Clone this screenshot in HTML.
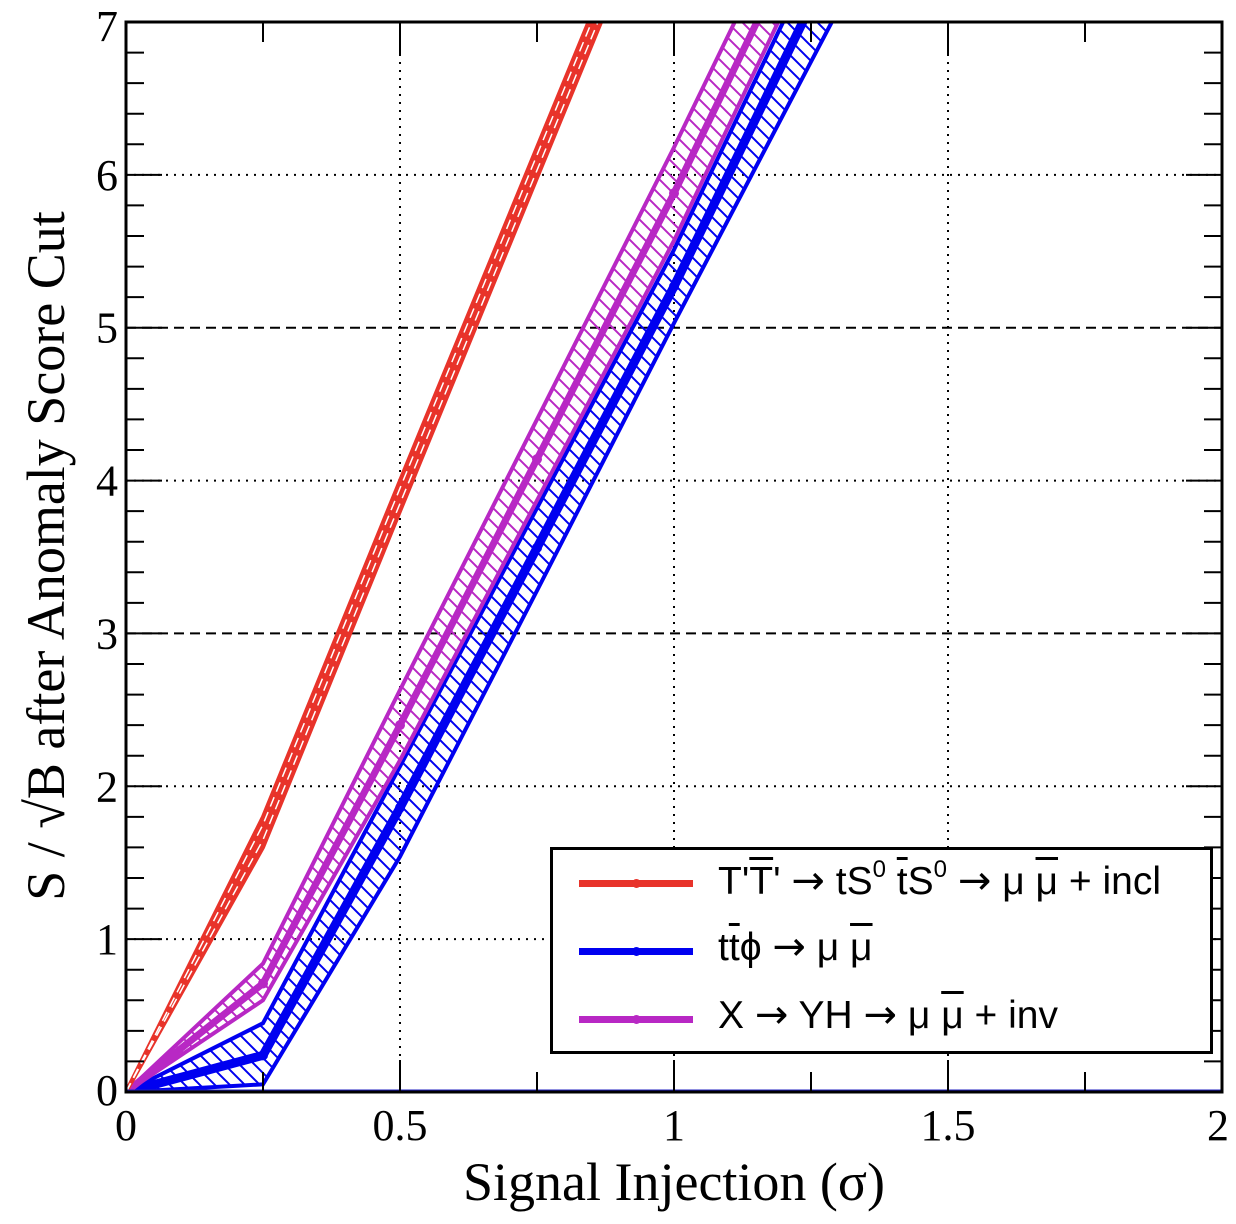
<!DOCTYPE html>
<html><head><meta charset="utf-8">
<style>
body{margin:0;background:#fff;}
#wrap{position:relative;width:1236px;height:1224px;overflow:hidden;background:#fff;}
svg{position:absolute;left:0;top:0;}
.lg{position:absolute;left:550px;top:847px;width:657px;height:201px;border:3px solid #000;background:#fff;font-family:"Liberation Sans",sans-serif;font-size:39px;color:#000;}
.ent{position:absolute;left:0;width:650px;height:50px;}
.sw{position:absolute;left:26px;top:30px;width:114px;height:7px;}
.dot{position:absolute;left:79px;top:29px;width:9px;height:9px;border-radius:50%;}
.tx{position:absolute;left:165px;top:6px;white-space:nowrap;}
.ov{text-decoration:overline;}
.ar{font-family:"DejaVu Sans",sans-serif;font-size:40px;}
sup{font-size:24px;vertical-align:17px;}
</style></head>
<body>
<div id="wrap">
<svg id="plot" width="1236" height="1224"></svg>
<div class="lg">
 <div class="ent" style="top:0px"><div class="sw" style="background:#e8332a"></div><div class="dot" style="background:#e8332a"></div><div class="tx">T'<span class="ov">T</span>' <span class="ar">→</span> tS<sup>0</sup> <span class="ov">t</span>S<sup>0</sup> <span class="ar">→</span> μ <span class="ov">μ</span> + incl</div></div>
 <div class="ent" style="top:68px"><div class="sw" style="background:#0000f0"></div><div class="dot" style="background:#0000f0"></div><div class="tx">t<span class="ov">t</span>ϕ <span class="ar">→</span> μ <span class="ov">μ</span></div></div>
 <div class="ent" style="top:136px"><div class="sw" style="background:#b828c4"></div><div class="dot" style="background:#b828c4"></div><div class="tx">X <span class="ar">→</span> YH <span class="ar">→</span> μ <span class="ov">μ</span> + inv</div></div>
</div>
</div>
<script>
const xs=[0,0.25,0.5,0.75,1.0,1.25,1.5];
const redC=[0,1.70,3.90,6.08,8.26,10.4,12.6];
const redU=[0,1.80,4.00,6.18,8.36,10.5,12.7];
const redL=[0,1.60,3.80,5.98,8.16,10.3,12.5];
const bluC=[0,0.24,1.86,3.56,5.27,7.11,8.95];
const bluU=[0,0.45,2.13,3.82,5.51,7.38,9.25];
const bluL=[0,0.05,1.54,3.28,5.03,6.74,8.45];
const magC=[0,0.71,2.40,4.14,5.88,7.73,9.6];
const magU=[0,0.84,2.63,4.40,6.18,8.03,9.9];
const magL=[0,0.60,2.17,3.87,5.57,7.45,9.3];
const xTicks=[0,0.5,1,1.5,2];
const xTickLabels=["0","0.5","1","1.5","2"];
const yTicks=[0,1,2,3,4,5,6,7];

const X0=126,X1=1222,Y0=1092,Y1=22;
const sx=v=>X0+(v/2)*(X1-X0);
const sy=v=>Y0-(v/7)*(Y0-Y1);
const NS="http://www.w3.org/2000/svg";
const svg=document.getElementById('plot');
function mk(t,a,p){const e=document.createElementNS(NS,t);for(const k in a)e.setAttribute(k,a[k]);(p||svg).appendChild(e);return e;}
const defs=mk('defs',{});
[['hb','#0000f0'],['hm','#b828c4']].forEach(([id,c])=>{
 const p=mk('pattern',{id:id,patternUnits:'userSpaceOnUse',width:15,height:15},defs);
 mk('path',{d:'M0,0 L15,15 M-7.5,7.5 L7.5,22.5 M7.5,-7.5 L22.5,7.5',stroke:c,'stroke-width':2},p);
});
const cp=mk('clipPath',{id:'cl'},defs);
mk('rect',{x:X0,y:Y1,width:X1-X0,height:Y0-Y1},cp);

xTicks.forEach(v=>{if(v>0&&v<2){const g=mk('line',{x1:sx(v),x2:sx(v),y1:Y1,y2:Y0,stroke:'#000','stroke-width':2,'stroke-dasharray':'2,6'});
}});
yTicks.forEach(v=>{if(v>0&&v<7){const d=(v===3||v===5)?'10,6':'2,6';const g=mk('line',{x1:X0,x2:X1,y1:sy(v),y2:sy(v),stroke:'#000','stroke-width':2,'stroke-dasharray':d});
}});

const G=mk('g',{'clip-path':'url(#cl)'});
function pts(arr){return arr.map((v,i)=>sx(xs[i])+','+sy(v)).join(' ');}
function band(U,L,fill,stroke,name){
 const poly=U.map((v,i)=>sx(xs[i])+','+sy(v)).concat(L.map((v,i)=>sx(xs[i])+','+sy(v)).reverse()).join(' ');
 const p=mk('polygon',{points:poly,fill:fill,stroke:'none'},G);
 
 [U,L].forEach(a=>{const l=mk('polyline',{points:pts(a),fill:'none',stroke:stroke,'stroke-width':4},G);
 });
}
function line(C,c,w,name){
 const l=mk('polyline',{points:pts(C),fill:'none',stroke:c,'stroke-width':w},G);
 
 C.forEach((v,i)=>{const d=mk('circle',{cx:sx(xs[i]),cy:sy(v),r:5,fill:c},G);
 });
}
band(bluU,bluL,'url(#hb)','#0000f0','ttphi');
line(bluC,'#0000f0',9,'ttphi');
band(magU,magL,'url(#hm)','#b828c4','x-yh');
line(magC,'#b828c4',7,'x-yh');
band(redU,redL,'#e8332a','#e8332a','tt-prime');
[0.05,-0.05].forEach(o=>{
const wd=mk('polyline',{points:redC.map((v,i)=>sx(xs[i])+','+sy(v+(i?o:0))).join(' '),fill:'none',stroke:'#fff','stroke-width':1.5,'stroke-dasharray':'10,6'},G);
});
const bl=mk('line',{x1:X0,x2:X1,y1:Y0-1,y2:Y0-1,stroke:'#2020c0','stroke-width':3});


const fr=mk('rect',{x:X0,y:Y1,width:X1-X0,height:Y0-Y1,fill:'none',stroke:'#000','stroke-width':3});

for(let k=0;k<=8;k++){const v=k*0.25;const L=(k%2===0)?32:20;
 mk('line',{x1:sx(v),x2:sx(v),y1:Y0,y2:Y0-L,stroke:'#000','stroke-width':2});
 mk('line',{x1:sx(v),x2:sx(v),y1:Y1,y2:Y1+L,stroke:'#000','stroke-width':2});}
for(let k=0;k<=35;k++){const v=k*0.2;const L=(k%5===0)?36:18;
 mk('line',{x1:X0,x2:X0+L,y1:sy(v),y2:sy(v),stroke:'#000','stroke-width':2});
 mk('line',{x1:X1,x2:X1-L,y1:sy(v),y2:sy(v),stroke:'#000','stroke-width':2});}
const ff='"Liberation Serif",serif';
xTicks.forEach((v,i)=>{const t=mk('text',{x:sx(v)-(v===2?4:0),y:1140,'text-anchor':'middle','font-family':ff,'font-size':44});
 t.textContent=xTickLabels[i];});
yTicks.forEach(v=>{const t=mk('text',{x:118,y:sy(v)+15+(v===7?4:0)+(v===0?-2:0),'text-anchor':'end','font-family':ff,'font-size':44});
 t.textContent=String(v);});
const xt=mk('text',{x:674,y:1200,'text-anchor':'middle','font-family':ff,'font-size':54});
xt.textContent='Signal Injection (σ)';
const yt=mk('text',{x:0,y:0,'text-anchor':'middle','font-family':ff,'font-size':54,transform:'translate(64,556) rotate(-90)'});
yt.textContent='S / √B after Anomaly Score Cut';
</script>
</body></html>
